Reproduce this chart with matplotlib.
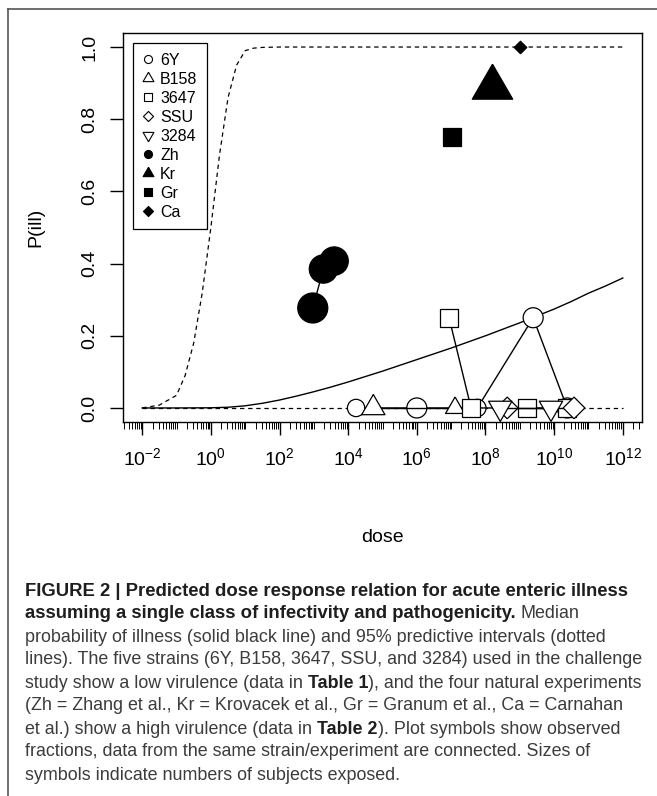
# Dose response plot with caption
import numpy as np
import matplotlib
matplotlib.use("Agg")
import matplotlib.pyplot as plt
from matplotlib.lines import Line2D
from matplotlib.ticker import FixedLocator, LogLocator, NullFormatter

plt.rcParams['font.family'] = ['Liberation Sans', 'DejaVu Sans']
plt.rcParams['mathtext.fontset'] = 'custom'
plt.rcParams['mathtext.rm'] = 'Liberation Sans'
plt.rcParams['mathtext.it'] = 'Liberation Sans:italic'
plt.rcParams['mathtext.bf'] = 'Liberation Sans:bold'

# Curves (log10 dose, probability)
curve_logdose = [-2, -1.5, -1, -0.75, -0.5, -0.25, 0, 0.25, 0.5, 0.75, 1, 1.25, 1.5, 2, 3, 4, 5, 6, 7, 8, 9, 10, 11, 12]
upper_p = [0.0, 0.008, 0.035, 0.09, 0.18, 0.32, 0.50, 0.70, 0.86, 0.95, 0.99, 0.997, 0.999, 1, 1, 1, 1, 1, 1, 1, 1, 1, 1, 1]
median_logdose = [-2, -1, 0, 0.5, 1, 1.5, 2, 2.5, 3, 3.5, 4, 4.5, 5, 5.5, 6, 6.5, 7, 7.5, 8, 8.5, 9, 9.5, 10, 10.5, 11, 11.5, 12]
median_p = [0, 0, 0.0005, 0.002, 0.006, 0.013, 0.022, 0.033, 0.045, 0.058, 0.072, 0.087, 0.102,
            0.118, 0.134, 0.15, 0.166, 0.183, 0.2, 0.218, 0.236, 0.255, 0.274, 0.295, 0.318, 0.338, 0.36]
lower_logdose = [-2, 12]
lower_p = [0, 0]

# Observed fractions: challenge study strains (open) and natural experiments (filled)
dose_6Y = [1.7e4, 1.0e6, 5.8e7, 2.45e9, 2.4e10]
p_6Y = [0, 0, 0, 0.25, 0]
n_6Y = [3, 4, 3, 4, 4]

dose_B158 = [5.4e4, 1.3e7]
p_B158 = [0, 0]
n_B158 = [3, 2]

dose_3647 = [8.7e6, 3.8e7, 1.6e9, 2.4e10]
p_3647 = [0.25, 0, 0, 0]
n_3647 = [4, 4, 4, 4]

dose_SSU = [4.3e8, 3.8e10]
p_SSU = [0, 0]
n_SSU = [3, 3]

dose_3284 = [2.7e8, 8.1e9]
p_3284 = [0, 0]
n_3284 = [3, 3]

dose_Zh = [9.3e2, 1.9e3, 3.9e3]
p_Zh = [0.277, 0.385, 0.407]
n_Zh = [9, 8, 8]

dose_Kr = [1.55e8]
p_Kr = [8 / 9]
n_Kr = [9]

dose_Gr = [1.07e7]
p_Gr = [0.75]
n_Gr = [4]

dose_Ca = [1.0e9]
p_Ca = [1.0]
n_Ca = [1]

x_ticks = [1e-2, 1e0, 1e2, 1e4, 1e6, 1e8, 1e10, 1e12]
x_tick_labels = [r'$\mathregular{10^{-2}}$', r'$\mathregular{10^{0}}$', r'$\mathregular{10^{2}}$',
                 r'$\mathregular{10^{4}}$', r'$\mathregular{10^{6}}$', r'$\mathregular{10^{8}}$',
                 r'$\mathregular{10^{10}}$', r'$\mathregular{10^{12}}$']
y_ticks = [0.0, 0.2, 0.4, 0.6, 0.8, 1.0]
y_tick_labels = ['0.0', '0.2', '0.4', '0.6', '0.8', '1.0']

# R-like symbols (equal area shapes)
sq = [(-1, -1), (1, -1), (1, 1), (-1, 1), (-1, -1)]
dm = [(0, -1), (1, 0), (0, 1), (-1, 0), (0, -1)]
tu = [(0, 1), (0.866, -0.5), (-0.866, -0.5), (0, 1)]
td = [(0, -1), (0.866, 0.5), (-0.866, 0.5), (0, -1)]
shape_scale = {'o': 1.0, 'sq': 0.886, 'dm': 1.253, 'tu': 1.555, 'td': 1.555}
shape_path = {'o': 'o', 'sq': sq, 'dm': dm, 'tu': tu, 'td': td}

W, H = 657, 796
fig = plt.figure(figsize=(W / 100, H / 100), dpi=100)
ax = fig.add_axes([123 / W, 1 - 422.4 / H, 519 / W, 389.8 / H])
ax.set_xscale('log')
ax.set_xlim(10 ** -2.56, 10 ** 12.56)
ax.set_ylim(-0.04, 1.04)

dash = (0, (3.5, 3))
ax.plot(10.0 ** np.array(curve_logdose), upper_p, color='black', lw=0.9, ls=dash, zorder=2)
ax.plot(10.0 ** np.array(lower_logdose), lower_p, color='black', lw=0.9, ls=dash, zorder=2)
ax.plot(10.0 ** np.array(median_logdose), median_p, color='black', lw=1.0, zorder=2)

series = [
    (dose_6Y, p_6Y, n_6Y, 'o', 'white'),
    (dose_B158, p_B158, n_B158, 'tu', 'white'),
    (dose_3647, p_3647, n_3647, 'sq', 'white'),
    (dose_SSU, p_SSU, n_SSU, 'dm', 'white'),
    (dose_3284, p_3284, n_3284, 'td', 'white'),
    (dose_Zh, p_Zh, n_Zh, 'o', 'black'),
    (dose_Kr, p_Kr, n_Kr, 'tu', 'black'),
    (dose_Gr, p_Gr, n_Gr, 'sq', 'black'),
    (dose_Ca, p_Ca, n_Ca, 'dm', 'black'),
]
z = 3
for d, p, n, shp, fc in series:
    ax.plot(d, p, color='black', lw=1.0, zorder=z)
    size_pt = 7.2 * np.sqrt(np.array(n)) * shape_scale[shp]
    ax.scatter(d, p, s=size_pt ** 2, marker=shape_path[shp], facecolors=fc,
               edgecolors='black', linewidths=0.9, zorder=z + 0.5)
    z += 1

# axes styling
ax.xaxis.set_major_locator(FixedLocator(x_ticks))
ax.set_xticklabels(x_tick_labels, fontsize=14)
ax.xaxis.set_minor_locator(LogLocator(base=10, subs=np.arange(1, 10), numticks=40))
ax.xaxis.set_minor_formatter(NullFormatter())
ax.set_yticks(y_ticks)
ax.set_yticklabels(y_tick_labels, fontsize=14, rotation=90, va='center')
ax.tick_params(axis='both', which='major', length=9.5, width=1.0, direction='out')
ax.tick_params(axis='x', which='major', pad=8)
ax.tick_params(axis='y', which='major', pad=8)
ax.tick_params(axis='x', which='minor', length=5, width=0.7)
for s in ax.spines.values():
    s.set_linewidth(1.0)

ax.set_xlabel('dose', fontsize=14, va='center')
ax.xaxis.set_label_coords(0.5, (422.4 - 537) / 389.8)
ax.set_ylabel('P(ill)', fontsize=14, va='center')
ax.yaxis.set_label_coords((36 - 123) / 519, 0.5)

# legend
leg_names = ['6Y', 'B158', '3647', 'SSU', '3284', 'Zh', 'Kr', 'Gr', 'Ca']
handles = []
for name, (d, p, n, shp, fc) in zip(leg_names, series):
    handles.append(Line2D([], [], ls='none', marker=shape_path[shp], ms=5.8 * shape_scale[shp],
                          mfc=fc, mec='black', mew=0.8, label=name))
leg = ax.legend(handles=handles, loc='upper left', bbox_to_anchor=(0.0193, 0.973),
                borderaxespad=0, fontsize=11.5, frameon=True, fancybox=False,
                edgecolor='black', framealpha=1, handlelength=0.7, handletextpad=0.4,
                borderpad=0.6, labelspacing=0.25)
leg.get_frame().set_linewidth(0.9)

# outer frame (top and left edges)
fig.add_artist(Line2D([8 / W, 1], [1 - 9 / H, 1 - 9 / H], transform=fig.transFigure, color='#555555', lw=1.2))
fig.add_artist(Line2D([8 / W, 8 / W], [0, 1 - 9 / H], transform=fig.transFigure, color='#555555', lw=1.2))

# caption
renderer = fig.canvas.get_renderer()
cap_fs = 12.9
cap_fs_bold = 13.3
cap_x0 = 25
cap_y0 = 591
cap_step = 23


def text_w(txt, weight, size):
    t = fig.text(0, 0, txt, fontsize=size, fontweight=weight)
    w = t.get_window_extent(renderer).width
    t.remove()
    return w


space_w = text_w('x x', 'normal', cap_fs) - text_w('xx', 'normal', cap_fs)

caption = [
    [('FIGURE 2 | Predicted dose response relation for acute enteric illness', 'bold')],
    [('assuming a single class of infectivity and pathogenicity.', 'bold'), (' ', None), ('Median', 'normal')],
    [('probability of illness (solid black line) and 95% predictive intervals (dotted', 'normal')],
    [('lines). The five strains (6Y, B158, 3647, SSU, and 3284) used in the challenge', 'normal')],
    [('study show a low virulence (data in', 'normal'), (' ', None), ('Table 1', 'bold'),
     ('), and the four natural experiments', 'normal')],
    [('(Zh = Zhang et al., Kr = Krovacek et al., Gr = Granum et al., Ca = Carnahan', 'normal')],
    [('et al.) show a high virulence (data in', 'normal'), (' ', None), ('Table 2', 'bold'),
     ('). Plot symbols show observed', 'normal')],
    [('fractions, data from the same strain/experiment are connected. Sizes of', 'normal')],
    [('symbols indicate numbers of subjects exposed.', 'normal')],
]
for i, parts in enumerate(caption):
    x = cap_x0
    y = 1 - (cap_y0 + i * cap_step) / H
    for txt, weight in parts:
        if weight is None:
            x += space_w
            continue
        bold = weight == 'bold'
        col = '#1e1e1e' if bold else '#3c3c3c'
        size = cap_fs_bold if (bold and i < 2) else cap_fs
        t = fig.text(x / W, y, txt, fontsize=size, fontweight=weight, color=col,
                     ha='left', va='center')
        x = t.get_window_extent(renderer).x1

fig.savefig('out.png', dpi=100)
